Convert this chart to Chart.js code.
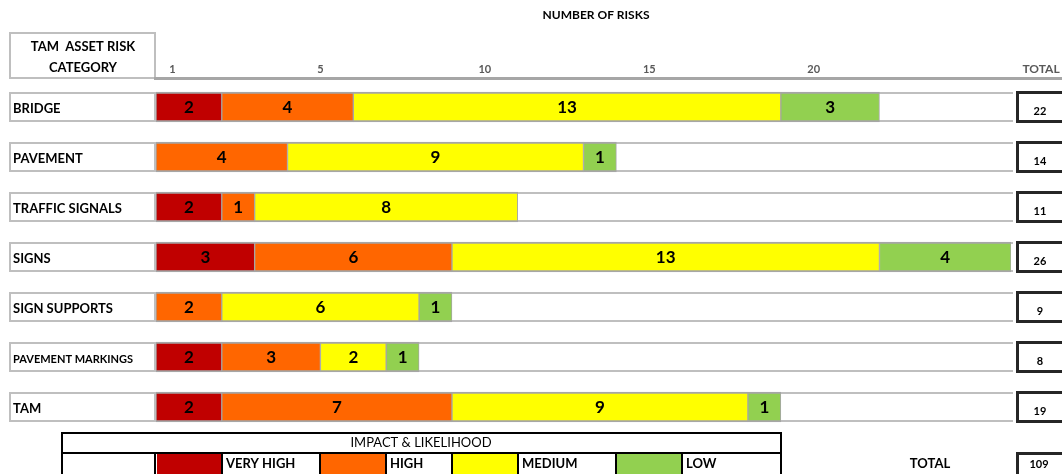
<!DOCTYPE html>
<html>
<head>
    <title>TAM Asset Risk Summary</title>
    <script src="https://cdn.jsdelivr.net/npm/chart.js@4"></script>
    <style>
        body { margin: 0; background: #ffffff; }
        #riskChart { display: block; }
    </style>
</head>
<body>
    <canvas id="riskChart" width="1062" height="474"></canvas>
    <script>
        // risk counts per asset category, split by impact & likelihood level
        var categories = ['BRIDGE', 'PAVEMENT', 'TRAFFIC SIGNALS', 'SIGNS', 'SIGN SUPPORTS', 'PAVEMENT MARKINGS', 'TAM'];
        var veryHigh = [2, 0, 2, 3, 0, 2, 2];
        var high = [4, 4, 1, 6, 2, 3, 7];
        var medium = [13, 9, 8, 13, 6, 2, 9];
        var low = [3, 1, 0, 4, 1, 1, 1];

        var levelNames = ['VERY HIGH', 'HIGH', 'MEDIUM', 'LOW'];
        var levelColors = ['#C00000', '#FF6600', '#FFFF00', '#92D050'];

        // first label sits in the middle of the first unit
        var tickValues = [0.5, 5, 10, 15, 20];
        var tickLabels = ['1', '5', '10', '15', '20'];

        var FONT = 'Lato, "Open Sans", sans-serif';

        function hline(ctx, x1, x2, y, w, color) {
            ctx.fillStyle = color;
            ctx.fillRect(x1, y, x2 - x1, w);
        }
        function vline(ctx, x, y1, y2, w, color) {
            ctx.fillStyle = color;
            ctx.fillRect(x, y1, w, y2 - y1);
        }
        function text(ctx, str, x, y, font, color, align) {
            ctx.font = font;
            ctx.fillStyle = color;
            ctx.textAlign = align || 'center';
            ctx.textBaseline = 'middle';
            ctx.fillText(str, x, y);
        }

        var sheetPlugin = {
            id: 'sheet',
            beforeDatasetsDraw: function (chart) {
                var ctx = chart.ctx;
                var xs = chart.scales.x;
                var ys = chart.scales.y;
                var half = 15;
                ctx.save();

                text(ctx, 'NUMBER OF RISKS', 596, 15, 'bold 12px ' + FONT, '#000000');

                // header cell and axis rule
                hline(ctx, 9, 156, 32, 2, '#BFBFBF');
                vline(ctx, 9, 32, 79, 2, '#BFBFBF');
                vline(ctx, 154, 32, 79, 2, '#BFBFBF');
                hline(ctx, 9, 156, 77, 2, '#BFBFBF');
                hline(ctx, 154, 1062, 77, 3, '#A6A6A6');
                text(ctx, 'TAM  ASSET RISK', 83, 47, 'bold 13px ' + FONT, '#000000');
                text(ctx, 'CATEGORY', 83, 68, 'bold 13px ' + FONT, '#000000');

                for (var t = 0; t < tickValues.length; t++) {
                    text(ctx, tickLabels[t], xs.getPixelForValue(tickValues[t]), 69, 'bold 11px ' + FONT, '#595959');
                }
                text(ctx, 'TOTAL', 1041, 69, 'bold 12px ' + FONT, '#595959');

                // one bordered row per category
                for (var i = 0; i < categories.length; i++) {
                    var y = Math.round(ys.getPixelForValue(i));
                    hline(ctx, 9, 1013, y - half, 2, '#BFBFBF');
                    hline(ctx, 9, 1013, y + half - 2, 2, '#BFBFBF');
                    vline(ctx, 9, y - half, y + half, 2, '#BFBFBF');
                    vline(ctx, 154, y - half, y + half, 2, '#BFBFBF');
                }
                ctx.restore();
            },
            afterDatasetsDraw: function (chart) {
                var ctx = chart.ctx;
                var xs = chart.scales.x;
                var ys = chart.scales.y;
                var half = 15;
                ctx.save();

                // values inside the segments
                chart.data.datasets.forEach(function (ds, d) {
                    var meta = chart.getDatasetMeta(d);
                    meta.data.forEach(function (bar, j) {
                        var v = ds.data[j];
                        if (!v) return;
                        text(ctx, String(v), (bar.x + bar.base) / 2, bar.y + 1, 'bold 17px ' + FONT, '#000000');
                    });
                });

                // category names and totals
                var grand = 0;
                for (var i = 0; i < categories.length; i++) {
                    var y = Math.round(ys.getPixelForValue(i));
                    var size = 13;
                    ctx.font = 'bold ' + size + 'px ' + FONT;
                    while (ctx.measureText(categories[i]).width > 122 && size > 8) {
                        size--;
                        ctx.font = 'bold ' + size + 'px ' + FONT;
                    }
                    text(ctx, categories[i], 13, y + 2, ctx.font, '#000000', 'left');

                    var total = veryHigh[i] + high[i] + medium[i] + low[i];
                    grand += total;
                    ctx.strokeStyle = '#262626';
                    ctx.lineWidth = 3;
                    ctx.strokeRect(1017.5, y - half + 0.5, 60, half * 2 - 1);
                    text(ctx, String(total), 1040, y + 4, 'bold 11px ' + FONT, '#000000');
                }

                // impact & likelihood key
                hline(ctx, 61, 782, 432, 2, '#000000');
                hline(ctx, 61, 782, 452, 2, '#000000');
                vline(ctx, 61, 432, 474, 2, '#000000');
                vline(ctx, 780, 432, 474, 2, '#000000');
                text(ctx, 'IMPACT & LIKELIHOOD', 421, 443, '13px ' + FONT, '#000000');

                var edges = [0, 2, 5, 7, 9, 11, 14, 16, 19];
                var px = edges.map(function (e) { return Math.round(xs.getPixelForValue(e)); });
                vline(ctx, 154, 452, 474, 2, '#000000');
                for (var k = 0; k < levelNames.length; k++) {
                    var a = px[k * 2], b = px[k * 2 + 1], c = px[k * 2 + 2];
                    ctx.fillStyle = levelColors[k];
                    ctx.fillRect(a + 1, 454, b - a - 1, 20);
                    vline(ctx, b - 1, 452, 474, 2, '#000000');
                    if (k < levelNames.length - 1) vline(ctx, c - 1, 452, 474, 2, '#000000');
                    text(ctx, levelNames[k], b + 4, 464, 'bold 13px ' + FONT, '#000000', 'left');
                }

                text(ctx, 'TOTAL', 930, 464, 'bold 13px ' + FONT, '#000000');
                ctx.strokeStyle = '#262626';
                ctx.lineWidth = 3;
                ctx.strokeRect(1017.5, 453.5, 60, 30);
                text(ctx, String(grand), 1039, 464, 'bold 11px ' + FONT, '#000000');

                ctx.restore();
            }
        };

        function levelDataset(i, values) {
            return {
                label: levelNames[i],
                data: values,
                backgroundColor: levelColors[i],
                borderColor: '#A6A6A6',
                borderWidth: { top: 2, bottom: 2, left: 1, right: 1 },
                borderSkipped: false,
                barThickness: 30
            };
        }

        var ctx = document.getElementById('riskChart').getContext('2d');

        var riskChart = new Chart(ctx, {
            type: 'bar',
            data: {
                labels: categories,
                datasets: [
                    levelDataset(0, veryHigh),
                    levelDataset(1, high),
                    levelDataset(2, medium),
                    levelDataset(3, low)
                ]
            },
            options: {
                indexAxis: 'y',
                responsive: false,
                animation: false,
                layout: { padding: { left: 156, right: 51, top: 82, bottom: 42 } },
                plugins: {
                    legend: { display: false },
                    tooltip: { enabled: false }
                },
                scales: {
                    x: { stacked: true, min: 0, max: 26, display: false },
                    y: { stacked: true, display: false }
                }
            },
            plugins: [sheetPlugin]
        });
    </script>
</body>
</html>
